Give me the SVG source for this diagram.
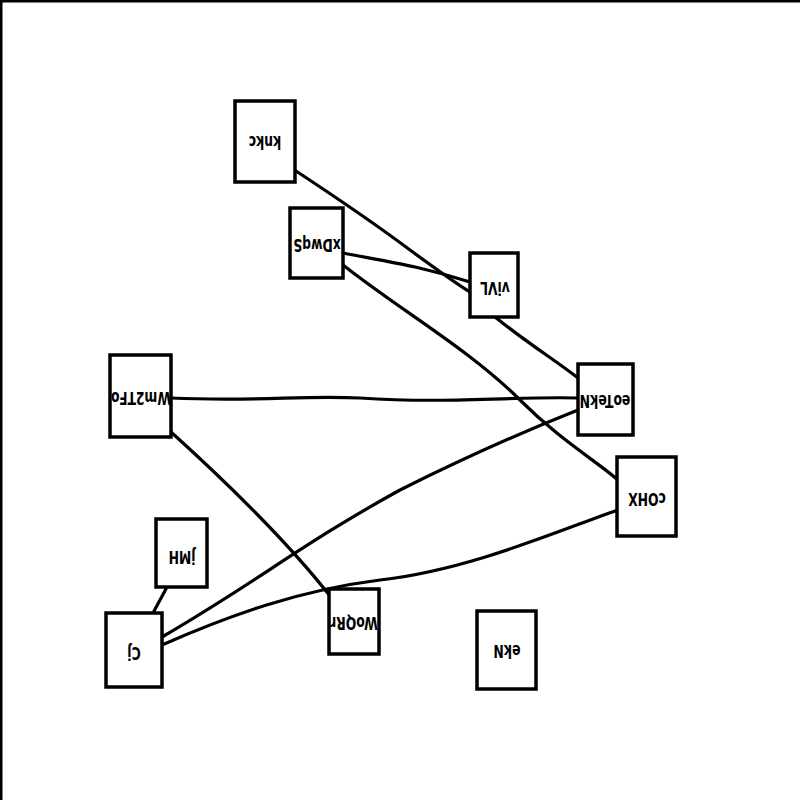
<svg xmlns="http://www.w3.org/2000/svg" width="800" height="800" viewBox="0 0 800 800">
<style>
.n rect{fill:#fff;stroke:#000;stroke-width:3.5}
.n text{font-family:"DejaVu Sans",sans-serif;font-weight:bold;font-size:13px;text-anchor:middle;dominant-baseline:central;fill:#000}
.e path{fill:none;stroke:#000;stroke-width:3.2;stroke-linecap:round}
</style>
<rect width="800" height="800" fill="#fff"/>
<path d="M0 1H800M1 0V800" stroke="#000" stroke-width="3"/>
<g class="e">
<path d="M296 171C340 200 370 220 410 250C440 272 455 283 470 292"/>
<path d="M343 253C390 262 420 266 470 282"/>
<path d="M495 317C530 345 555 360 578 378"/>
<path d="M343 265C400 310 470 350 520 400C560 440 595 460 618 480"/>
<path d="M171 398C260 402 300 395 360 398C450 404 520 396 578 398"/>
<path d="M171 432C235 490 290 545 330 596"/>
<path d="M162 637C260 580 300 545 400 490C480 450 540 425 578 410"/>
<path d="M162 645C230 615 300 590 380 580C470 570 560 530 618 510"/>
<path d="M167 587L153 613"/>
</g>
<g id="knkc" class="n"><rect x="235" y="101" width="60" height="81"/><text transform="translate(265 142) rotate(180) scale(0.95 1.3)">knkc</text></g>
<g id="xDwqS" class="n"><rect x="290" y="208" width="53" height="70"/><text transform="translate(317 245) rotate(180) scale(0.95 1.3)">xDwqS</text></g>
<g id="viVL" class="n"><rect x="470" y="253" width="48" height="64"/><text transform="translate(495 288) rotate(180) scale(0.95 1.3)">viVL</text></g>
<g id="eoTekN" class="n"><rect x="578" y="364" width="55" height="71"/><text transform="translate(605 401) rotate(180) scale(0.95 1.3)">eoTekN</text></g>
<g id="Wm2TFo" class="n"><rect x="110" y="355" width="61" height="82"/><text transform="translate(141 398) rotate(180) scale(0.95 1.3)">Wm2TFo</text></g>
<g id="cOHX" class="n"><rect x="617" y="457" width="59" height="79"/><text transform="translate(647 499) rotate(180) scale(0.95 1.3)">cOHX</text></g>
<g id="jMH" class="n"><rect x="156" y="519" width="51" height="68"/><text transform="translate(182 557) rotate(180) scale(0.95 1.3)">jMH</text></g>
<g id="Cj" class="n"><rect x="106" y="613" width="56" height="74"/><text transform="translate(134 653) rotate(180) scale(0.95 1.3)">Cj</text></g>
<g id="WoQRr" class="n"><rect x="329" y="589" width="50" height="65"/><text transform="translate(354 623) rotate(180) scale(0.95 1.3)">WoQRr</text></g>
<g id="ekN" class="n"><rect x="477" y="611" width="59" height="78"/><text transform="translate(507 651) rotate(180) scale(0.95 1.3)">ekN</text></g>
</svg>
